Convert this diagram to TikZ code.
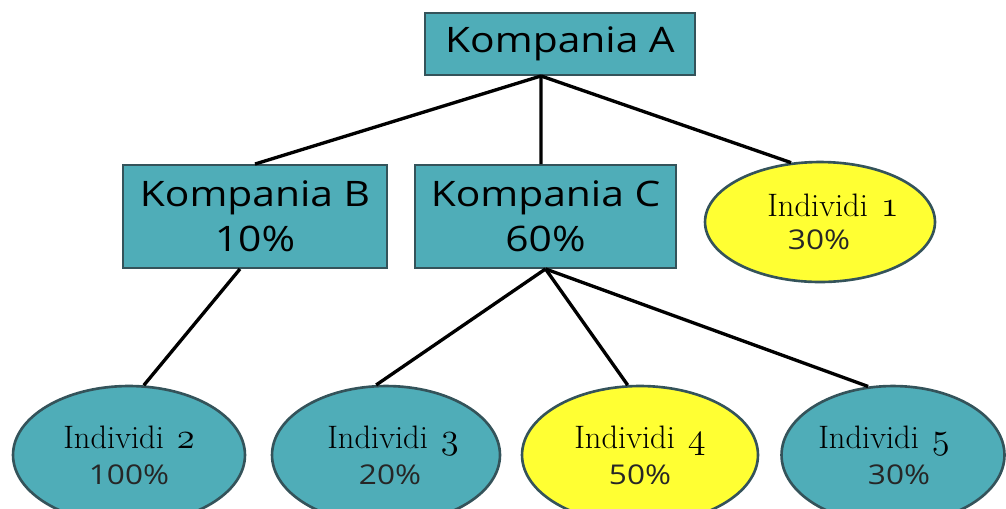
\documentclass[tikz,border=0pt]{standalone}
\usepackage{fontspec}
\usetikzlibrary{shapes.geometric}
\newfontfamily\kfont[FakeStretch=1.16]{Open Sans}
\newcommand\osnum[1]{\hspace{0.4em}{\usefont{OML}{cmm}{m}{it}\fontsize{22}{20}\selectfont#1}}
\definecolor{kteal}{HTML}{4FADB8}
\definecolor{kyellow}{HTML}{FFFF33}
\definecolor{kedge}{HTML}{34535A}
\tikzset{
  firm/.style={draw=kedge,line width=1.1pt,fill=kteal,inner sep=0pt,align=center,
    font=\kfont\fontsize{20}{25.6}\selectfont},
  person/.style={ellipse,draw=kedge,line width=1.5pt,fill=kteal,inner sep=0pt,align=center,
    minimum height=2.76cm,font=\fontsize{18.5}{20.5}\selectfont},
  link/.style={line width=1.9pt}
}
\newcommand\pc[1]{{\kfont\fontsize{15.5}{16}\selectfont\color{black!85}#1\%}}
\begin{document}
\begin{tikzpicture}[x=0.02cm,y=-0.02cm]
		\useasboundingbox (0,0) rectangle (1006,508);
		% companies
		\node[firm,minimum width=5.4cm,minimum height=1.24cm] (A) at (560,44) {Kompania A};
		\node[firm,minimum width=5.28cm,minimum height=2.06cm] (B) at (255,216.5) {Kompania B\\10\%};
		\node[firm,minimum width=5.22cm,minimum height=2.06cm] (C) at (545.5,216.5) {Kompania C\\60\%};
		% individuals
		\node[person,fill=kyellow,minimum width=4.6cm,minimum height=2.4cm,
		  font=\fontsize{18.5}{19}\selectfont] (I1) at (820,222)
		  {\hspace*{0.52cm}Individi\osnum{1}\\\hspace*{-0.04cm}\pc{30}};
		\node[person,minimum width=4.64cm] (I2) at (129,455) {Individi\osnum{2}\\\pc{100}};
		\node[person,minimum width=4.56cm] (I3) at (386,455)
		  {\hspace*{0.28cm}Individi\osnum{3}\\\hspace*{0.16cm}\pc{20}};
		\node[person,fill=kyellow,minimum width=4.72cm] (I4) at (640,455) {Individi\osnum{4}\\\pc{50}};
		\node[person,minimum width=4.46cm] (I5) at (893,455)
		  {\hspace*{-0.36cm}Individi\osnum{5}\\\hspace*{0.24cm}\pc{30}};
		% ownership links
		\draw[link] ([xshift=-0.38cm]A.south) -- (B.north);
		\draw[link] ([xshift=-0.38cm]A.south) -- ([xshift=-0.09cm]C.north);
		\draw[link] ([xshift=-0.38cm]A.south) -- (I1.116);
		\draw[link] ([xshift=-0.3cm]B.south) -- (I2.78);
		\draw[link] (C.south) -- (I3.98);
		\draw[link] (C.south) -- (I4.100);
		\draw[link] (C.south) -- (I5.110);
\end{tikzpicture}
\end{document}
